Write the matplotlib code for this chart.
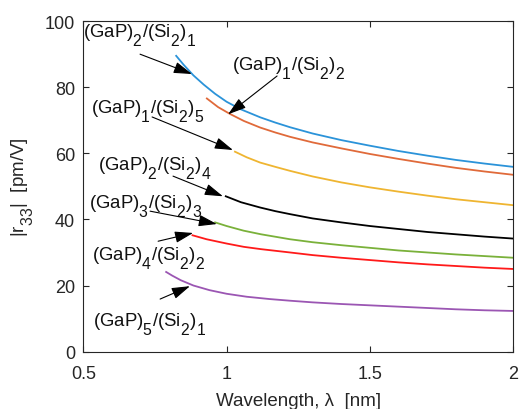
import matplotlib
matplotlib.use("Agg")
import matplotlib.pyplot as plt
import matplotlib._mathtext as mt

# bigger, lower subscripts like the MATLAB figure
mt.SHRINK_FACTOR = 0.85
mt.FontConstantsBase.sub1 = 0.95
mt.FontConstantsBase.sub2 = 0.95

plt.rcParams['font.family'] = ['Liberation Sans', 'DejaVu Sans']
plt.rcParams['mathtext.fontset'] = 'custom'
plt.rcParams['mathtext.rm'] = 'Liberation Sans'
plt.rcParams['mathtext.it'] = 'Liberation Sans:italic'

# curves: wavelength (nm) and |r33| (pm/V)
wl_21 = [0.824, 0.85, 0.884, 0.92, 0.96, 1.0, 1.05, 1.117, 1.17, 1.221, 1.3, 1.4, 1.5, 1.6, 1.7, 1.8, 1.9, 2.0]
r_21 = [89.5, 86.8, 83.6, 80.8, 78.0, 75.6, 73.3, 70.9, 69.3, 67.9, 66.0, 64.0, 62.3, 60.7, 59.3, 58.0, 56.9, 55.9]
wl_12 = [0.931, 0.97, 1.012, 1.06, 1.117, 1.17, 1.221, 1.3, 1.4, 1.5, 1.6, 1.7, 1.8, 1.9, 2.0]
r_12 = [76.6, 74.0, 71.9, 69.8, 67.8, 66.3, 65.0, 63.3, 61.5, 59.8, 58.3, 56.9, 55.6, 54.5, 53.5]
wl_15 = [1.029, 1.07, 1.117, 1.17, 1.221, 1.3, 1.4, 1.5, 1.6, 1.7, 1.8, 1.9, 2.0]
r_15 = [60.5, 58.8, 57.2, 55.9, 54.7, 53.0, 51.2, 49.7, 48.4, 47.2, 46.1, 45.2, 44.3]
wl_24 = [0.997, 1.05, 1.117, 1.17, 1.221, 1.3, 1.4, 1.5, 1.6, 1.7, 1.8, 1.9, 2.0]
r_24 = [47.0, 45.2, 43.6, 42.5, 41.6, 40.3, 39.1, 38.0, 37.1, 36.2, 35.5, 34.8, 34.2]
wl_33 = [0.960, 1.0, 1.059, 1.12, 1.221, 1.3, 1.4, 1.5, 1.6, 1.7, 1.8, 1.9, 2.0]
r_33 = [39.1, 38.0, 36.6, 35.5, 34.0, 33.1, 32.2, 31.4, 30.6, 30.0, 29.4, 28.9, 28.4]
wl_42 = [0.881, 0.93, 1.0, 1.06, 1.12, 1.221, 1.3, 1.4, 1.5, 1.6, 1.7, 1.8, 1.9, 2.0]
r_42 = [35.2, 34.0, 32.7, 31.7, 31.0, 30.0, 29.2, 28.4, 27.7, 27.0, 26.4, 25.9, 25.4, 25.0]
wl_51 = [0.789, 0.81, 0.84, 0.884, 0.94, 1.0, 1.07, 1.15, 1.221, 1.3, 1.4, 1.5, 1.6, 1.7, 1.8, 1.9, 2.0]
r_51 = [24.1, 23.0, 21.6, 20.0, 18.6, 17.5, 16.6, 15.9, 15.4, 14.9, 14.4, 14.0, 13.6, 13.2, 12.8, 12.5, 12.3]

curves = [(wl_21, r_21, '#2b93d9'),
          (wl_12, r_12, '#e06a3a'),
          (wl_15, r_15, '#efb531'),
          (wl_24, r_24, '#000000'),
          (wl_33, r_33, '#7ab13a'),
          (wl_42, r_42, '#ff1a1a'),
          (wl_51, r_51, '#9b56b3')]

# label text, left/baseline of text, arrow tail, arrow head
labels = ['(GaP)$_2$/(Si$_2$)$_1$', '(GaP)$_1$/(Si$_2$)$_2$', '(GaP)$_1$/(Si$_2$)$_5$',
          '(GaP)$_2$/(Si$_2$)$_4$', '(GaP)$_3$/(Si$_2$)$_3$', '(GaP)$_4$/(Si$_2$)$_2$',
          '(GaP)$_5$/(Si$_2$)$_1$']
text_pos = [(0.500, 95.4), (1.018, 85.3), (0.526, 72.4), (0.552, 55.2),
            (0.521, 43.6), (0.529, 27.8), (0.535, 7.8)]
tail_pos = [(0.698, 90.0), (1.176, 83.4), (0.740, 71.0), (0.813, 53.1),
            (0.733, 42.5), (0.761, 33.4), (0.768, 15.9)]
head_pos = [(0.879, 84.0), (1.005, 71.8), (1.022, 61.0), (0.987, 47.0),
            (0.966, 38.6), (0.883, 35.9), (0.872, 19.8)]

fig = plt.figure(figsize=(5.19, 4.10), dpi=100)
ax = fig.add_axes([0.1605, 0.140, 0.8285, 0.806])

for x, y, c in curves:
    ax.plot(x, y, color=c, lw=1.3)

for lab, tp, tl, hd in zip(labels, text_pos, tail_pos, head_pos):
    ax.text(tp[0], tp[1], lab, ha='left', va='baseline', fontsize=13.4, color='#111111')
    ax.annotate('', xy=hd, xytext=tl,
                arrowprops=dict(arrowstyle='-|>,head_length=0.7,head_width=0.22',
                                color='k', lw=0.8, mutation_scale=16,
                                shrinkA=0, shrinkB=0))

ax.set_xlim(0.5, 2)
ax.set_ylim(0, 100)
ax.set_xticks([0.5, 1, 1.5, 2])
ax.set_xticklabels(['0.5', '1', '1.5', '2'])
ax.set_yticks([0, 20, 40, 60, 80, 100])
ax.tick_params(direction='in', top=True, right=True, labelsize=13,
               colors='#262626', length=4, width=0.8)
ax.tick_params(axis='x', pad=10)
ax.tick_params(axis='y', pad=6)
for s in ax.spines.values():
    s.set_color('#262626')
    s.set_linewidth(0.8)

ax.set_xlabel('Wavelength, λ  [nm]', fontsize=13.5, color='#262626', labelpad=7)
ax.set_ylabel('|r$_{33}$|  [pm/V]', fontsize=13.5, color='#262626', labelpad=6)

fig.savefig('out.png', dpi=100)
